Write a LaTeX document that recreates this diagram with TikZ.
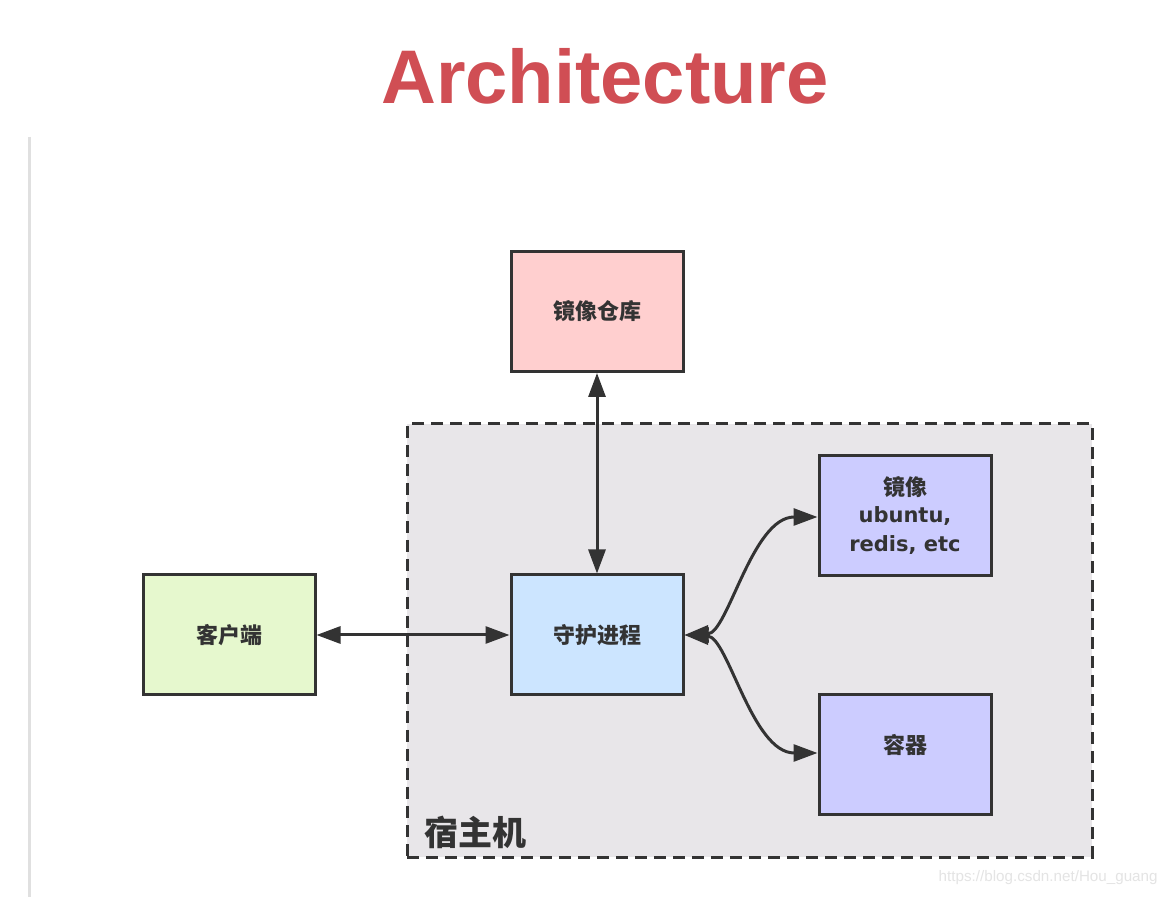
\documentclass[tikz,border=0pt]{standalone}
\usepackage{fontspec}
\setmainfont{Liberation Sans}
\newfontfamily\cjk{Noto Sans CJK SC}
\newfontfamily\dv{DejaVu Sans}
\usetikzlibrary{arrows.meta}
\definecolor{titlered}{RGB}{208,78,84}
\definecolor{edge}{RGB}{51,51,51}
\definecolor{pinkfill}{RGB}{255,207,207}
\definecolor{greenfill}{RGB}{230,248,206}
\definecolor{bluefill}{RGB}{204,229,255}
\definecolor{purplefill}{RGB}{204,204,255}
\definecolor{hostfill}{RGB}{232,230,233}
\definecolor{sidegray}{RGB}{224,224,224}
\definecolor{wmgray}{RGB}{228,228,228}
\begin{document}
\begin{tikzpicture}[x=0.5pt,y=-0.5pt,
  box/.style={draw=edge,line width=1.5pt,minimum width=86pt,minimum height=60pt,
    inner sep=0pt,align=center,text=edge,font=\cjk\bfseries\fontsize{11}{14.5}\selectfont},
  link/.style={draw=edge,line width=1.5pt,<->,>={Triangle[length=12pt,width=8.5pt]}}]
\useasboundingbox (0,0) rectangle (1168,897);
\fill[white] (0,0) rectangle (1168,897);
% left rule
\draw[sidegray,line width=1.5pt] (29,137) -- (29,897);
% title
\node[anchor=base,text=titlered,font=\bfseries\fontsize{38}{40}\selectfont,inner sep=0pt] (title) at (605,104) {Architecture};
% host
\node[draw=edge,fill=hostfill,line width=1.5pt,dash pattern=on 6pt off 3.5pt,
  minimum width=342.5pt,minimum height=216.5pt,inner sep=0pt] (host) at (749.5,640.5) {};
\node[anchor=west,text=edge,font=\cjk\bfseries\fontsize{17}{20}\selectfont,inner sep=0pt] (hostlabel) at (424,832) {宿主机};
% boxes
\node[box,fill=pinkfill] (repo) at (597,311.5) {镜像仓库};
\node[box,fill=greenfill] (client) at (229,635) {客户端};
\node[box,fill=bluefill] (daemon) at (597,635) {守护进程};
\node[box,fill=purplefill] (image) at (905,515.5) {镜像\\[-1pt]{\dv\fontsize{10.5}{14.5}\selectfont ubuntu,}\\{\dv\fontsize{10.5}{14.5}\selectfont redis, etc}};
\node[box,fill=purplefill] (container) at (905,755) {\raisebox{5pt}[\height][\depth]{容器}};
% connectors
\draw[link] (daemon.east) .. controls (728,633) and (752,517) .. (image.west|-0,517);
\draw[link] (daemon.east) .. controls (728,637) and (752,753) .. (container.west|-0,753);
\draw[link] (repo.south) -- (daemon.north);
\draw[link] (client.east) -- (daemon.west);
% watermark
\node[anchor=east,text=wmgray,font=\fontsize{7.6}{9}\selectfont,inner sep=0pt] (wm) at (1158,878) {https://blog.csdn.net/Hou\_guang};
\end{tikzpicture}
\end{document}
